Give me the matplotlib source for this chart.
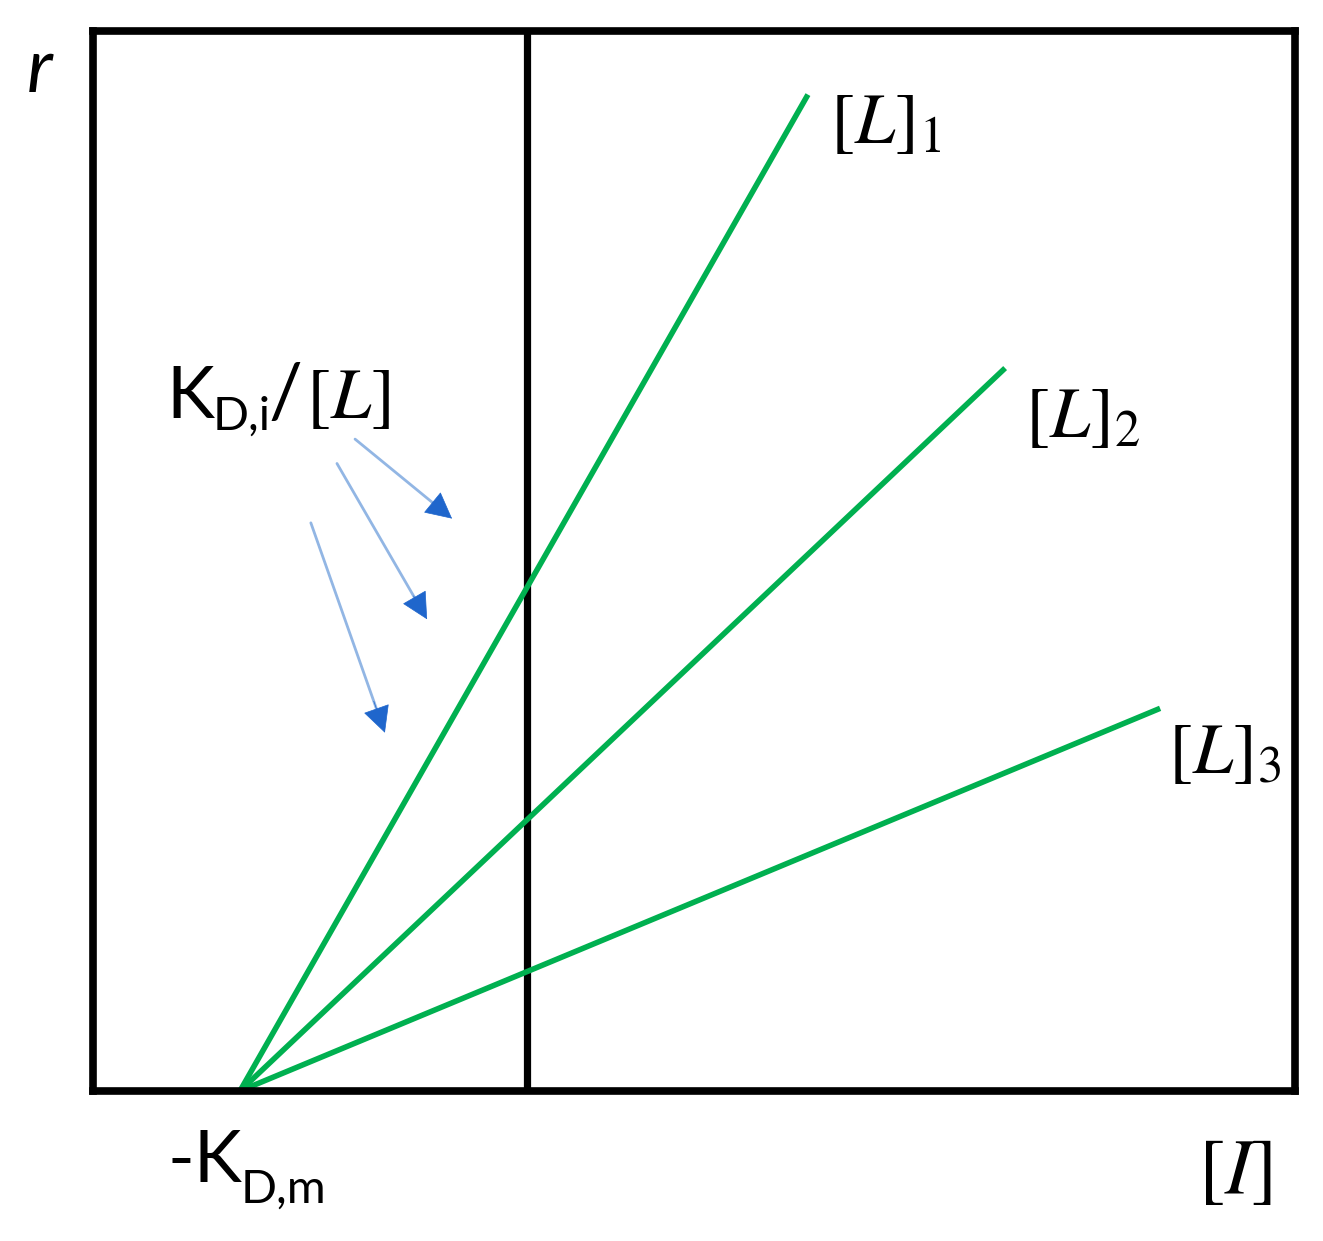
import matplotlib
matplotlib.use("Agg")
import matplotlib.pyplot as plt

# schematic units: -K_D,m sits at x = -1, the r axis at x = 0
km_x = -1.0
x_min, x_max = -1.512, 2.676
line_labels = ['$[L]_1$', '$[L]_2$', '$[L]_3$']
line_end_x = [0.979, 1.666, 2.206]
line_end_y = [0.940, 0.682, 0.361]

# arrows pointing towards the intercepts K_D,i/[L]
arrow_tail = [(-0.599, 0.615), (-0.662, 0.592), (-0.753, 0.536)]
arrow_tip = [(-0.261, 0.540), (-0.348, 0.445), (-0.495, 0.338)]

green = '#00b050'
shaft_blue = '#92b6e4'
head_blue = '#1f66cc'

W, H = 1323, 1241
fig = plt.figure(figsize=(W / 100, H / 100), dpi=100)
ax = fig.add_axes([93 / W, (H - 1091) / H, (1295 - 93) / W, (1091 - 31) / H])
ax.set_xlim(x_min, x_max)
ax.set_ylim(0, 1)
ax.set_xticks([])
ax.set_yticks([])
for s in ax.spines.values():
    s.set_linewidth(5.5)
    s.set_capstyle('projecting')

# r axis
ax.axvline(0, color='black', lw=5.2)

# lines through -K_D,m
for ex, ey in zip(line_end_x, line_end_y):
    ax.plot([km_x, ex], [0, ey], color=green, lw=4, solid_capstyle='butt',
            clip_on=False)

def px(x, y):
    # pixel position in the picture -> data coords
    return (x - 527) / 287, (1091 - y) / 1060

for (x, y), lab in zip([(830, 124), (1025, 417), (1168, 753)], line_labels):
    ax.text(*px(x, y), lab, fontsize=52, ha='left', va='center',
            math_fontfamily='stix')

for (tx, ty), (hx, hy) in zip(arrow_tail, arrow_tip):
    ax.annotate('', xy=(hx, hy), xytext=(tx, ty),
                arrowprops=dict(arrowstyle='-', color=shaft_blue, lw=2,
                                shrinkA=0, shrinkB=8))
    mx, my = tx + 0.85 * (hx - tx), ty + 0.85 * (hy - ty)
    ax.annotate('', xy=(hx, hy), xytext=(mx, my),
                arrowprops=dict(arrowstyle='-|>,head_length=0.55,head_width=0.28',
                                color=head_blue, lw=0.5, mutation_scale=32,
                                shrinkA=0, shrinkB=0))

# K_D,i/[L]
ax.text(*px(166, 418), 'K', fontsize=52, family='Lato', ha='left', va='baseline')
ax.text(*px(213, 430), 'D,i', fontsize=34, family='Lato', ha='left', va='baseline')
ax.text(*px(269, 418), '/', fontsize=54, family='Lato', ha='left', va='baseline')
ax.text(*px(306, 418), '$[L]$', fontsize=52, ha='left', va='baseline',
        math_fontfamily='stix')

ax.text(*px(40, 92), 'r', fontsize=54, family='Lato', style='italic',
        ha='center', va='baseline', clip_on=False)

# -K_D,m
ax.text(*px(168, 1182), '-K', fontsize=52, family='Lato', ha='left',
        va='baseline', clip_on=False)
ax.text(*px(241, 1203), 'D,m', fontsize=34, family='Lato', ha='left',
        va='baseline', clip_on=False)

ax.text(*px(1198, 1171), '$[I]$', fontsize=57, ha='left', va='center',
        math_fontfamily='stix', clip_on=False)

fig.savefig('out.png', dpi=100)
